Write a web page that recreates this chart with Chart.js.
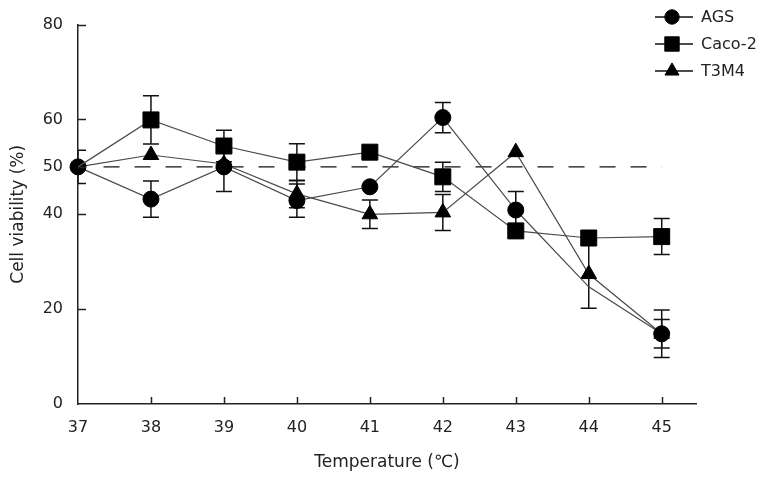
<!DOCTYPE html>
<html>
<head>
<meta charset="utf-8">
<script src="https://cdn.jsdelivr.net/npm/chart.js@4.4.1/dist/chart.umd.min.js"></script>
<style>
  html, body { margin: 0; padding: 0; background: #fff; }
</style>
</head>
<body>
<canvas id="graficoViabilidade" width="769" height="478"></canvas>
<script>
// dados
const temperaturas = [37, 38, 39, 40, 41, 42, 43, 44, 45];
const ags       = [50, 43.2, 50.0, 42.9, 45.8, 60.4, 40.9, 24.7, 14.8];
const agsErr    = [3.5, 3.8, 5.2, 3.5, 0, 3.2, 3.9, 0, 3.0];
const caco2     = [50, 59.9, 54.4, 51.0, 53.1, 47.9, 36.5, 35.0, 35.3];
const caco2Err  = [0, 5.1, 3.3, 3.9, 0, 3.1, 0, 0, 3.8];
const t3m4      = [50, 52.5, 50.6, 44.3, 40.0, 40.4, 53.1, 27.4, 14.8];
const t3m4Err   = [0, 0, 0, 2.9, 3.0, 3.8, 0, 7.2, 5.0];
const xTicks = [37, 38, 39, 40, 41, 42, 43, 44, 45];
const yTicks = [0, 20, 40, 50, 60, 80];
const linhaRef = { valor: 50, de: 37.35, ate: 45 };

const FONTE = "'DejaVu Sans', Verdana, sans-serif";

// ordem: menor "ordem" é desenhado por cima
const series = [
  { nome: 'AGS', valores: ags, erros: agsErr, estilo: 'circle', raio: 8, ocultos: [7], ordem: 1 },
  { nome: 'Caco-2', valores: caco2, erros: caco2Err, estilo: 'rect', raio: 11.3, ocultos: [0], ordem: 0 },
  { nome: 'T3M4', valores: t3m4, erros: t3m4Err, estilo: 'triangle', raio: 9, ocultos: [0], ordem: 2 }
];

// barras de erro, recortadas na área do gráfico
const barrasErro = {
  id: 'barrasErro',
  beforeDatasetsDraw(chart) {
    const { ctx, chartArea: a, scales: { x, y } } = chart;
    ctx.save();
    ctx.beginPath();
    ctx.rect(a.left, a.top, a.right - a.left, a.bottom - a.top);
    ctx.clip();
    ctx.strokeStyle = '#111';
    ctx.lineWidth = 1.5;
    series.forEach(s => {
      s.erros.forEach((e, i) => {
        if (!e) return;
        const px = x.getPixelForValue(temperaturas[i]);
        const yt = y.getPixelForValue(s.valores[i] + e);
        const yb = y.getPixelForValue(s.valores[i] - e);
        ctx.beginPath();
        ctx.moveTo(px, yt); ctx.lineTo(px, yb);
        ctx.moveTo(px - 8, yt); ctx.lineTo(px + 8, yt);
        ctx.moveTo(px - 8, yb); ctx.lineTo(px + 8, yb);
        ctx.stroke();
      });
    });
    ctx.restore();
  }
};

// marcas dos eixos voltadas para dentro + legenda
const marcasLegenda = {
  id: 'marcasLegenda',
  afterDraw(chart) {
    const { ctx, chartArea: a, scales: { x, y } } = chart;
    ctx.save();
    ctx.strokeStyle = '#222';
    ctx.lineWidth = 1.5;
    ctx.beginPath();
    yTicks.forEach(v => {
      if (v === y.min) return;
      const py = Math.round(y.getPixelForValue(v)) + 0.5;
      ctx.moveTo(a.left, py); ctx.lineTo(a.left + 8, py);
    });
    xTicks.forEach(v => {
      if (v === x.min) return;
      const px = Math.round(x.getPixelForValue(v)) + 0.5;
      ctx.moveTo(px, a.bottom); ctx.lineTo(px, a.bottom - 7);
    });
    ctx.stroke();

    // legenda
    series.forEach((s, i) => {
      const ly = 17 + i * 27;
      ctx.strokeStyle = '#111';
      ctx.lineWidth = 1.3;
      ctx.beginPath();
      ctx.moveTo(655, ly); ctx.lineTo(693, ly);
      ctx.stroke();
      ctx.fillStyle = '#000';
      ctx.strokeStyle = '#000';
      ctx.lineWidth = 1;
      Chart.helpers.drawPoint(ctx, { pointStyle: s.estilo, radius: s.raio * 0.9, rotation: 0, borderWidth: 1 }, 672, ly);
      ctx.fillStyle = '#222';
      ctx.font = '16px ' + FONTE;
      ctx.textBaseline = 'middle';
      ctx.textAlign = 'left';
      ctx.fillText(s.nome, 701, ly + 1);
    });
    ctx.restore();
  }
};

const datasets = series.map(s => ({
  label: s.nome,
  data: temperaturas.map((t, i) => ({ x: t, y: s.valores[i] })),
  order: s.ordem,
  borderColor: '#4a4a4a',
  borderWidth: 1.2,
  pointStyle: s.estilo,
  pointRadius: s.valores.map((_, i) => s.ocultos.includes(i) ? 0 : s.raio),
  pointBackgroundColor: '#000',
  pointBorderColor: '#000',
  pointBorderWidth: 1,
  clip: false,
  tension: 0
}));

datasets.push({
  label: 'ref',
  data: [{ x: linhaRef.de, y: linhaRef.valor }, { x: linhaRef.ate, y: linhaRef.valor }],
  borderColor: '#111',
  borderWidth: 1.3,
  borderDash: [16, 15],
  pointRadius: 0,
  order: 10
});

new Chart(document.getElementById('graficoViabilidade'), {
  type: 'line',
  data: { datasets },
  options: {
    responsive: false,
    animation: false,
    devicePixelRatio: 1,
    layout: { padding: { top: 18, right: 73, left: 0, bottom: 0 } },
    plugins: { legend: { display: false }, tooltip: { enabled: false } },
    scales: {
      x: {
        type: 'linear',
        min: 37,
        max: 45.47,
        afterBuildTicks: s => { s.ticks = xTicks.map(v => ({ value: v })); },
        afterFit: s => { s.height = 74; },
        grid: { display: false, drawTicks: false },
        border: { display: true, color: '#222', width: 1.5 },
        ticks: { padding: 14, color: '#222', font: { family: FONTE, size: 16 }, maxRotation: 0 },
        title: { display: true, text: 'Temperature (℃)', color: '#222', font: { family: FONTE, size: 17 }, padding: { top: 0, bottom: 5 } }
      },
      y: {
        type: 'linear',
        min: 0,
        max: 80,
        afterBuildTicks: s => { s.ticks = yTicks.map(v => ({ value: v })); },
        afterFit: s => { s.width = 78; },
        grid: { display: false, drawTicks: false },
        border: { display: true, color: '#222', width: 1.5 },
        ticks: { padding: 15, color: '#222', font: { family: FONTE, size: 16 } },
        title: { display: true, text: 'Cell viability (%)', color: '#222', font: { family: FONTE, size: 17 }, padding: { top: 8, bottom: 0 } }
      }
    }
  },
  plugins: [barrasErro, marcasLegenda]
});
</script>
</body>
</html>
